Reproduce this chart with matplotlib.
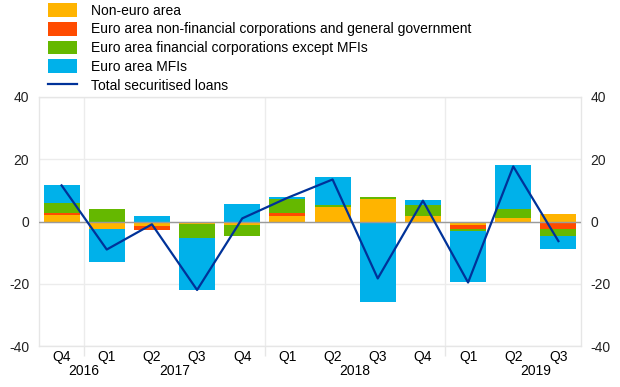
import matplotlib
matplotlib.use('Agg')
import matplotlib.pyplot as plt
from matplotlib.patches import Patch
from matplotlib.lines import Line2D
import numpy as np

plt.rcParams['font.family'] = ['Liberation Sans', 'DejaVu Sans']
plt.rcParams['axes.unicode_minus'] = False

quarters = ['Q4', 'Q1', 'Q2', 'Q3', 'Q4', 'Q1', 'Q2', 'Q3', 'Q4', 'Q1', 'Q2', 'Q3']
years = ['2016', '2017', '2018', '2019']
year_pos = [0.5, 2.5, 6.5, 10.5]
year_breaks = [0.5, 4.5, 8.5]

non_euro = [2.0, -2.5, -1.3, -0.9, -1.2, 1.8, 4.6, 7.1, 1.9, -1.2, 1.2, 2.4]
nfc_gov = [0.8, 0.0, -1.4, 0.0, 0.0, 0.8, -0.6, 0.0, -0.3, -1.2, -0.6, -2.5]
fin_corp = [3.2, 3.9, 0.0, -4.3, -3.5, 4.5, 0.6, 0.7, 3.3, -0.5, 2.8, -2.2]
mfis = [5.7, -10.4, 1.8, -16.9, 5.6, 0.7, 9.0, -26.0, 1.6, -16.5, 14.1, -4.2]
total = [11.6, -9.0, -0.9, -22.0, 1.0, 7.6, 13.5, -18.3, 6.7, -19.6, 17.7, -6.3]

series = [
    ('Non-euro area', non_euro, '#FFB400'),
    ('Euro area non-financial corporations and general government', nfc_gov, '#FF4B00'),
    ('Euro area financial corporations except MFIs', fin_corp, '#65B800'),
    ('Euro area MFIs', mfis, '#00B1EA'),
]

fig = plt.figure(figsize=(6.2, 3.87), dpi=100)
ax = fig.add_axes([39 / 620, 1 - 346 / 387, 542 / 620, 249 / 387])

x = np.arange(len(quarters))
pos_bottom = np.zeros(len(x))
neg_bottom = np.zeros(len(x))
for label, vals, col in series:
    v = np.array(vals)
    bottom = np.where(v >= 0, pos_bottom, neg_bottom)
    ax.bar(x, v, 0.8, bottom=bottom, color=col, linewidth=0, zorder=2)
    pos_bottom += np.where(v >= 0, v, 0)
    neg_bottom += np.where(v < 0, v, 0)

ax.axhline(0, color='#9a9a9a', linewidth=1, zorder=3)
ax.plot(x, total, color='#003299', linewidth=1.6, zorder=4)

ax.set_xlim(-0.5, 11.5)
ax.set_ylim(-40, 40)
ax.set_yticks([-40, -20, 0, 20, 40])
ax.tick_params(axis='y', length=0, labelsize=10, pad=7, labelright=True, colors='#222222')
ax.grid(axis='y', color='#ececec', linewidth=1, zorder=0)
for b in year_breaks:
    ax.axvline(b, color='#ececec', linewidth=1, zorder=0)

ax.set_xticks(x)
ax.set_xticklabels(quarters, fontsize=10)
ax.tick_params(axis='x', which='major', length=0, pad=3)
ax.set_xticks(year_breaks, minor=True)
ax.tick_params(axis='x', which='minor', length=7, color='#e6e6e6', width=1)
for yr, p in zip(years, year_pos):
    ax.text(p, -0.102, yr, transform=ax.get_xaxis_transform(), ha='center', va='center', fontsize=10)

for s in ax.spines.values():
    s.set_color('#e6e6e6')
    s.set_linewidth(1)

handles = [Patch(facecolor=c, edgecolor='none') for _, _, c in series]
handles.append(Line2D([0], [0], color='#003299', linewidth=1.6))
labels = [l for l, _, _ in series] + ['Total securitised loans']
fig.legend(handles, labels, loc='upper left', bbox_to_anchor=(48 / 620, 1 - 3 / 387),
           frameon=False, fontsize=10, borderpad=0, borderaxespad=0,
           handlelength=2.1, handleheight=1.15, handletextpad=1.0, labelspacing=0.3)

fig.savefig('out.png', dpi=100)
